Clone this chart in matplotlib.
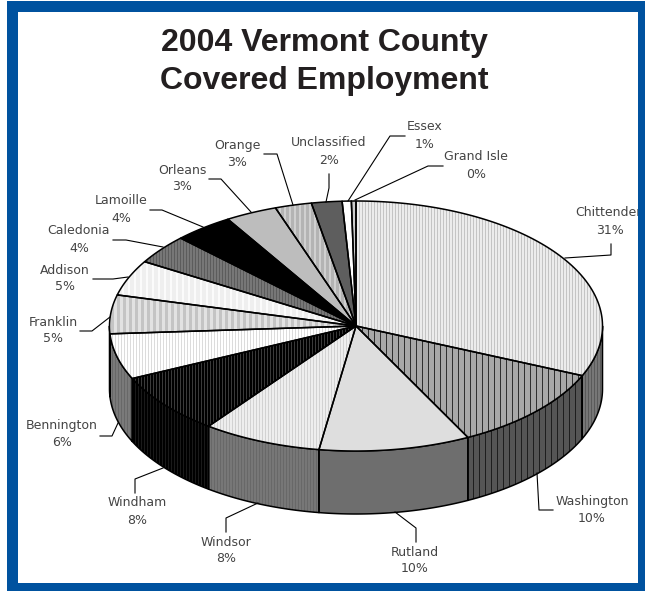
import numpy as np
import matplotlib
matplotlib.use("Agg")
import matplotlib.pyplot as plt
from matplotlib.patches import Polygon, Rectangle

counties = ["Chittenden", "Washington", "Rutland", "Windsor", "Windham",
            "Bennington", "Franklin", "Addison", "Caledonia", "Lamoille",
            "Orleans", "Orange", "Unclassified", "Essex", "Grand Isle"]
shares = [31.5, 11.0, 9.9, 7.8, 7.9, 5.9, 5.0, 4.6, 3.8, 3.9, 3.4, 2.4, 2.0, 0.6, 0.3]
percent_labels = ["31%", "10%", "10%", "8%", "8%", "6%", "5%", "5%", "4%", "4%",
                  "3%", "3%", "2%", "1%", "0%"]

# top face, side face: (base colour, stripe colour, stripe step, stripe width)
top_style = [("#ececec", "#c4c4c4", 3, 1), ("#a8a8a8", "#111111", 6, 0.8),
             ("#dedede", None, 0, 0), ("#eeeeee", "#d2d2d2", 3, 1),
             ("#000000", "#3a3a3a", 3, 1), ("#ffffff", "#dcdcdc", 3, 1),
             ("#c4c4c4", "#e2e2e2", 6, 3), ("#efefef", "#ffffff", 6, 1.5),
             ("#777777", "#5c5c5c", 3, 1), ("#000000", None, 0, 0),
             ("#bdbdbd", None, 0, 0), ("#b4b4b4", "#d0d0d0", 5, 2),
             ("#5e5e5e", None, 0, 0), ("#ffffff", None, 0, 0),
             ("#cccccc", None, 0, 0)]
side_style = [("#777777", "#5a5a5a", 3, 1), ("#555555", "#111111", 6, 0.8),
              ("#6e6e6e", None, 0, 0), ("#777777", "#686868", 3, 1),
              ("#000000", "#1a1a1a", 3, 1), ("#7a7a7a", "#686868", 3, 1),
              ("#777777", None, 0, 0), ("#777777", None, 0, 0),
              ("#777777", None, 0, 0), ("#777777", None, 0, 0),
              ("#777777", None, 0, 0), ("#777777", None, 0, 0),
              ("#777777", None, 0, 0), ("#777777", None, 0, 0),
              ("#777777", None, 0, 0)]

# label centre x, name y, percent y, leader path
label_xy = [(610, 213, 230), (592, 501, 518), (415, 553, 569), (226, 542, 558),
            (137, 503, 520), (62, 426, 443), (53, 322, 339), (65, 270, 287),
            (79, 231, 248), (121, 201, 218), (182, 170, 187), (237, 145, 162),
            (329, 143, 160), (425, 127, 144), (476, 157, 174)]
leaders = [[(565, 258), (611, 255), (611, 244)], [(537, 473), (539, 510), (553, 510)],
           [(395, 512), (416, 528), (416, 542)], [(258, 503), (226, 518), (226, 532)],
           [(163, 468), (135, 479), (135, 493)], [(118, 423), (112, 436), (100, 436)],
           [(110, 317), (92, 331), (80, 331)], [(128, 277), (113, 279), (93, 279)],
           [(163, 247), (126, 240), (113, 240)], [(203, 227), (162, 210), (150, 210)],
           [(251, 212), (221, 179), (209, 179)], [(293, 205), (277, 154), (264, 154)],
           [(326, 202), (329, 188), (329, 174)], [(348, 201), (390, 136), (405, 136)],
           [(355, 200), (428, 166), (443, 166)]]

cx, cy, rx, ry, depth = 356, 326, 246.5, 125, 63
BLUE = "#00529f"


def rim(a0, a1, dy=0):
    t = np.radians(np.linspace(a0, a1, max(int(abs(a1 - a0) * 2), 2)))
    return np.column_stack([cx + rx * np.sin(t), cy - ry * np.cos(t) + dy])


def paint(ax, pts, style, z):
    base, stripe, step, width = style
    poly = Polygon(pts, closed=True, fc=base, ec="none", zorder=z)
    ax.add_patch(poly)
    if stripe:
        xs = np.arange(np.floor(pts[:, 0].min()), pts[:, 0].max() + step, step)
        ln = ax.vlines(xs, pts[:, 1].min(), pts[:, 1].max(), colors=stripe,
                       linewidth=width * 0.72, zorder=z + 0.1)
        ln.set_clip_path(poly)
    ax.add_patch(Polygon(pts, closed=True, fc="none", ec="black", lw=1.1,
                         joinstyle="round", zorder=z + 0.2))


fig = plt.figure(figsize=(6.45, 5.91), dpi=100)
ax = fig.add_axes([0, 0, 1, 1])
ax.set_xlim(0, 645)
ax.set_ylim(591, 0)
ax.axis("off")

edges = 360 * np.cumsum([0] + shares) / sum(shares)

# side wall first, only the front half shows
for i in range(len(shares)):
    a0, a1 = max(edges[i], 90), min(edges[i + 1], 270)
    if a1 <= a0:
        continue
    pts = np.vstack([rim(a0, a1), rim(a0, a1, depth)[::-1]])
    paint(ax, pts, side_style[i], 2)

for i in range(len(shares)):
    pts = np.vstack([[(cx, cy)], rim(edges[i], edges[i + 1])])
    paint(ax, pts, top_style[i], 3)

for i, name in enumerate(counties):
    x, y1, y2 = label_xy[i]
    path = np.array(leaders[i])
    ax.plot(path[:, 0], path[:, 1], color="black", lw=0.8, zorder=5)
    ax.text(x, y1, name, ha="center", va="center", fontsize=9, color="#444444",
            family="DejaVu Sans", zorder=5)
    ax.text(x, y2, percent_labels[i], ha="center", va="center", fontsize=9,
            color="#444444", family="DejaVu Sans", zorder=5)

ax.text(324, 43, "2004 Vermont County", ha="center", va="center", fontsize=23,
        fontweight="bold", family="Liberation Sans", color="#231f20", zorder=5)
ax.text(324, 81, "Covered Employment", ha="center", va="center", fontsize=23,
        fontweight="bold", family="Liberation Sans", color="#231f20", zorder=5)

# blue frame sits on top so it cuts the Chittenden label like the original
ax.add_patch(Rectangle((7, 1), 638, 10.5, fc=BLUE, ec="none", zorder=8))
ax.add_patch(Rectangle((7, 583), 638, 8, fc=BLUE, ec="none", zorder=8))
ax.add_patch(Rectangle((7, 1), 10.5, 590, fc=BLUE, ec="none", zorder=8))
ax.add_patch(Rectangle((637.5, 1), 7.5, 590, fc=BLUE, ec="none", zorder=8))

fig.savefig("out.png", dpi=100)
